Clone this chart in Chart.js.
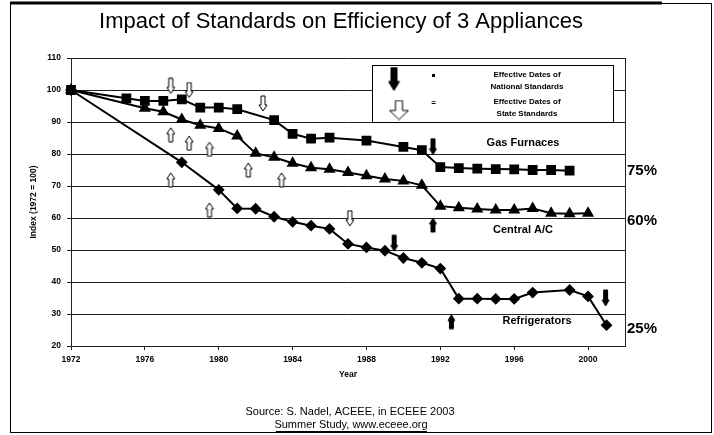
<!DOCTYPE html>
<html>
<head>
<meta charset="utf-8">
<script src="https://cdn.jsdelivr.net/npm/chart.js@4.4.1/dist/chart.umd.min.js"></script>
<style>
  body { margin: 0; background: #fff; }
  canvas { display: block; }
</style>
</head>
<body>
<canvas id="standardsChart" width="714" height="435"></canvas>
<script>
// Gas furnaces (index, 1972 = 100)
const gasYears  = [1972, 1975, 1976, 1977, 1978, 1979, 1980, 1981, 1983, 1984, 1985, 1986, 1988, 1990, 1991, 1992, 1993, 1994, 1995, 1996, 1997, 1998, 1999];
const gasValues = [100, 97.4, 96.6, 96.6, 97.1, 94.5, 94.5, 94.0, 90.6, 86.3, 84.8, 85.1, 84.2, 82.2, 81.2, 75.9, 75.6, 75.4, 75.3, 75.2, 75.0, 75.0, 74.8];

// Central A/C
const acYears  = [1972, 1976, 1977, 1978, 1979, 1980, 1981, 1982, 1983, 1984, 1985, 1986, 1987, 1988, 1989, 1990, 1991, 1992, 1993, 1994, 1995, 1996, 1997, 1998, 1999, 2000];
const acValues = [100, 94.3, 93.2, 90.8, 89.0, 88.0, 85.6, 80.2, 79.0, 77.1, 75.7, 75.2, 74.2, 73.2, 72.2, 71.6, 70.2, 63.7, 63.2, 62.8, 62.5, 62.5, 63.0, 61.5, 61.3, 61.5];

// Refrigerators
const fridgeYears  = [1972, 1978, 1980, 1981, 1982, 1983, 1984, 1985, 1986, 1987, 1988, 1989, 1990, 1991, 1992, 1993, 1994, 1995, 1996, 1997, 1999, 2000, 2001];
const fridgeValues = [100, 77.4, 68.8, 63.0, 62.9, 60.4, 58.8, 57.6, 56.6, 51.9, 50.8, 49.8, 47.5, 46.0, 44.2, 34.8, 34.8, 34.7, 34.7, 36.7, 37.5, 35.5, 26.5];

// Effective dates of national standards (black arrows)
const nationalDownYears  = [1991.6, 1989.5, 2000.95];
const nationalDownValues = [82.3, 52.1, 35.0];
const nationalUpYears    = [1991.6, 1992.6];
const nationalUpValues   = [57.8, 27.6];

// Effective dates of state standards (white arrows)
const stateDownYears  = [1977.4, 1978.4, 1982.4, 1987.1];
const stateDownValues = [101.3, 100.0, 95.8, 59.9];
const stateUpYears    = [1977.4, 1978.4, 1979.5, 1977.4, 1979.5, 1981.6, 1983.4];
const stateUpValues   = [86.0, 83.4, 81.5, 71.9, 62.5, 75.0, 71.9];

// Axis ticks
const xTickYears = [1972, 1976, 1980, 1984, 1988, 1992, 1996, 2000];
const yTickValues = [20, 30, 40, 50, 60, 70, 80, 90, 100, 110];

function toPoints(xs, ys) {
    return xs.map((x, i) => ({ x: x, y: ys[i] }));
}

// block arrow drawn into a small canvas, used as a point style
function makeArrow(dir, filled, w, h, shaftW, headH) {
    const c = document.createElement('canvas');
    c.width = w + 2;
    c.height = h + 2;
    const g = c.getContext('2d');
    const cx = c.width / 2;
    g.translate(0, 1);
    if (dir === 'up') {
        g.translate(0, h);
        g.scale(1, -1);
    }
    g.beginPath();
    g.moveTo(cx - shaftW / 2, 0);
    g.lineTo(cx + shaftW / 2, 0);
    g.lineTo(cx + shaftW / 2, h - headH);
    g.lineTo(cx + w / 2, h - headH);
    g.lineTo(cx, h);
    g.lineTo(cx - w / 2, h - headH);
    g.lineTo(cx - shaftW / 2, h - headH);
    g.closePath();
    g.fillStyle = filled ? '#000' : '#fff';
    g.fill();
    g.lineWidth = 1;
    g.strokeStyle = '#000';
    g.stroke();
    return c;
}

const blackDown = makeArrow('down', true, 7, 16, 4, 6);
const blackUp   = makeArrow('up', true, 7, 14, 4, 6);
const whiteDown = makeArrow('down', false, 8, 15, 4, 6);
const whiteUp   = makeArrow('up', false, 8, 14, 4, 6);
const legendBlack = makeArrow('down', true, 11, 23, 6, 9);
const legendWhite = makeArrow('down', false, 19, 19, 7, 9);

const labelFont = '"Liberation Sans", Arial, sans-serif';

// frame, title, legend box and text notes
const decorations = {
    id: 'decorations',
    beforeDraw(chart) {
        const ctx = chart.ctx;
        ctx.save();
        ctx.fillStyle = '#fff';
        ctx.fillRect(0, 0, chart.width, chart.height);
        ctx.restore();
    },
    afterDraw(chart) {
        const ctx = chart.ctx;
        const area = chart.chartArea;
        ctx.save();

        // outer frame
        ctx.strokeStyle = '#000';
        ctx.lineWidth = 1;
        ctx.strokeRect(10.5, 3.5, 701, 429);
        ctx.lineWidth = 3;
        ctx.beginPath();
        ctx.moveTo(10, 3);
        ctx.lineTo(662, 3);
        ctx.stroke();

        // right edge of the plot
        ctx.lineWidth = 1;
        ctx.strokeStyle = '#222';
        ctx.beginPath();
        ctx.moveTo(Math.round(area.right) + 0.5, area.top);
        ctx.lineTo(Math.round(area.right) + 0.5, area.bottom);
        ctx.stroke();

        // title
        ctx.fillStyle = '#000';
        ctx.textAlign = 'center';
        ctx.textBaseline = 'alphabetic';
        ctx.font = '22px ' + labelFont;
        ctx.fillText('Impact of Standards on Efficiency of 3 Appliances', 341, 28);

        // legend box
        ctx.fillStyle = '#fff';
        ctx.fillRect(372, 65, 241, 57);
        ctx.strokeStyle = '#000';
        ctx.strokeRect(372.5, 65.5, 241, 57);
        ctx.drawImage(legendBlack, 394 - legendBlack.width / 2, 79 - legendBlack.height / 2);
        ctx.drawImage(legendWhite, 399 - legendWhite.width / 2, 110 - legendWhite.height / 2);
        ctx.fillStyle = '#000';
        ctx.fillRect(432, 74, 3, 3);
        ctx.font = 'bold 8px ' + labelFont;
        ctx.textBaseline = 'middle';
        ctx.fillText('=', 433.5, 103);
        ctx.fillText('Effective Dates of', 527, 75);
        ctx.fillText('National Standards', 527, 87);
        ctx.fillText('Effective Dates of', 527, 102);
        ctx.fillText('State Standards', 527, 114);

        // series names
        ctx.font = 'bold 11px ' + labelFont;
        ctx.fillText('Gas Furnaces', 523, 143);
        ctx.fillText('Central A/C', 523, 230);
        ctx.fillText('Refrigerators', 537, 321);

        // end values
        ctx.textAlign = 'left';
        ctx.font = 'bold 15px ' + labelFont;
        ctx.fillText('75%', 627, 171);
        ctx.fillText('60%', 627, 221);
        ctx.fillText('25%', 627, 329);

        // source
        ctx.textAlign = 'center';
        ctx.font = '11px ' + labelFont;
        ctx.fillText('Source: S. Nadel, ACEEE, in ECEEE 2003', 350, 412);
        ctx.fillText('Summer Study, www.eceee.org', 351, 425);
        ctx.lineWidth = 1;
        ctx.beginPath();
        ctx.moveTo(276, 431.5);
        ctx.lineTo(427, 431.5);
        ctx.stroke();

        ctx.restore();
    }
};

const ctx = document.getElementById('standardsChart').getContext('2d');
const standardsChart = new Chart(ctx, {
    type: 'line',
    data: {
        datasets: [
            {
                label: 'Gas Furnaces',
                data: toPoints(gasYears, gasValues),
                borderColor: '#000',
                backgroundColor: '#000',
                borderWidth: 2,
                pointStyle: 'rect',
                pointRadius: 5.5,
                tension: 0,
                clip: false
            },
            {
                label: 'Central A/C',
                data: toPoints(acYears, acValues),
                borderColor: '#000',
                backgroundColor: '#000',
                borderWidth: 2,
                pointStyle: 'triangle',
                pointRadius: 5,
                tension: 0,
                clip: false
            },
            {
                label: 'Refrigerators',
                data: toPoints(fridgeYears, fridgeValues),
                borderColor: '#000',
                backgroundColor: '#000',
                borderWidth: 2,
                pointStyle: 'rectRot',
                pointRadius: 4.5,
                tension: 0,
                clip: false
            },
            {
                label: 'National (down)',
                data: toPoints(nationalDownYears, nationalDownValues),
                showLine: false,
                pointStyle: blackDown,
                clip: false
            },
            {
                label: 'National (up)',
                data: toPoints(nationalUpYears, nationalUpValues),
                showLine: false,
                pointStyle: blackUp,
                clip: false
            },
            {
                label: 'State (down)',
                data: toPoints(stateDownYears, stateDownValues),
                showLine: false,
                pointStyle: whiteDown,
                clip: false
            },
            {
                label: 'State (up)',
                data: toPoints(stateUpYears, stateUpValues),
                showLine: false,
                pointStyle: whiteUp,
                clip: false
            }
        ]
    },
    options: {
        responsive: false,
        animation: false,
        layout: {
            padding: { top: 58, left: 0, right: 89, bottom: 49 }
        },
        scales: {
            x: {
                type: 'linear',
                min: 1972,
                max: 2002,
                afterFit: function(scale) { scale.height = 40; },
                afterBuildTicks: function(scale) {
                    scale.ticks = xTickYears.map(v => ({ value: v }));
                },
                ticks: {
                    callback: v => String(v),
                    color: '#000',
                    padding: 5,
                    maxRotation: 0,
                    font: { family: labelFont, size: 8.5, weight: 'bold' }
                },
                grid: {
                    drawOnChartArea: false,
                    drawTicks: true,
                    tickLength: 4,
                    color: '#222'
                },
                border: { color: '#222', width: 1 },
                title: {
                    display: true,
                    text: 'Year',
                    color: '#000',
                    padding: { top: 0, bottom: 6 },
                    font: { family: labelFont, size: 8.5, weight: 'bold' }
                }
            },
            y: {
                min: 20,
                max: 110,
                afterFit: function(scale) { scale.width = 71; },
                afterBuildTicks: function(scale) {
                    scale.ticks = yTickValues.map(v => ({ value: v }));
                },
                ticks: {
                    color: '#000',
                    padding: 6,
                    font: { family: labelFont, size: 8.5, weight: 'bold' }
                },
                grid: {
                    color: '#222',
                    lineWidth: 1,
                    tickLength: 4
                },
                border: { color: '#222', width: 1 },
                title: {
                    display: true,
                    text: 'Index (1972 = 100)',
                    color: '#000',
                    padding: { top: 29, bottom: 0 },
                    font: { family: labelFont, size: 8.5, weight: 'bold' }
                }
            }
        },
        plugins: {
            legend: { display: false },
            tooltip: { enabled: false }
        }
    },
    plugins: [decorations]
});
</script>
</body>
</html>
